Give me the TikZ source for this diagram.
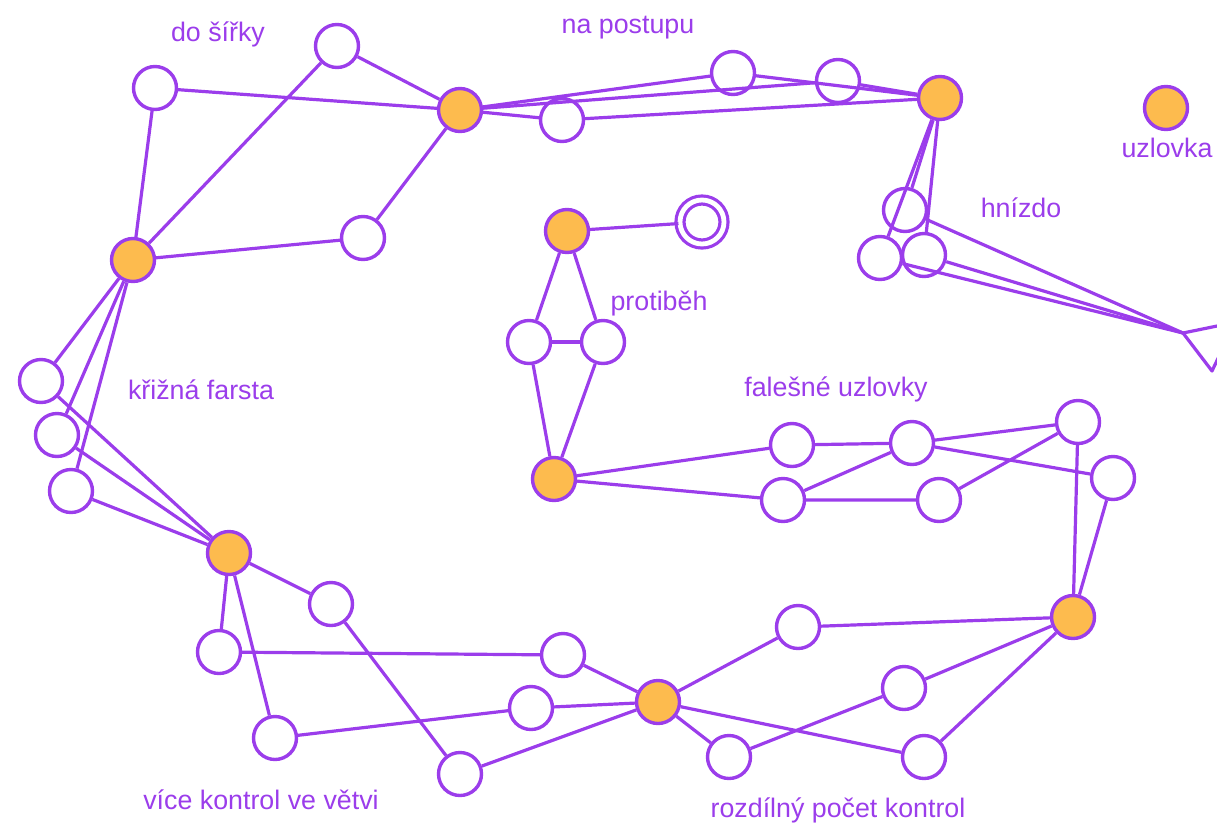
\documentclass[tikz,border=0pt]{standalone}
\usepackage{fontspec}
\setmainfont{Liberation Sans}
\definecolor{vio}{HTML}{9B3DEB}
\definecolor{gold}{HTML}{FDBB4E}

\begin{document}
\begin{tikzpicture}[x=1pt,y=-1pt,
  stop/.style={circle, draw=vio, line width=3.4pt, minimum size=43pt, inner sep=0pt, fill=white},
  hub/.style={stop, fill=gold},
  finish/.style={circle, draw=vio, line width=3.2pt, double, double distance=4.8pt, minimum size=44pt, inner sep=0pt, fill=white},
  link/.style={draw=vio, line width=3.2pt, line join=round},
  lbl/.style={text=vio, anchor=base, inner sep=0pt, font=\fontsize{26.8}{30}\selectfont}]
\useasboundingbox (0,0) rectangle (1217,822);
\clip (0,0) rectangle (1217,822);

% junction controls
\node[hub] (h1) at (460,110) {};
\node[hub] (h2) at (940,98) {};
\node[hub] (h3) at (133,260) {};
\node[hub] (h4) at (567,231) {};
\node[hub] (h5) at (554,479) {};
\node[hub] (h6) at (229,553) {};
\node[hub] (h7) at (658,702) {};
\node[hub] (h8) at (1073,617) {};
\node[hub] (hL) at (1166,108) {};

% ordinary controls
\node[stop] (w1) at (337,46) {};
\node[stop] (w2) at (155,88) {};
\node[stop] (w3) at (363,238) {};
\node[stop] (w4) at (733,73) {};
\node[stop] (w5) at (838,81) {};
\node[stop] (w6) at (562,120) {};
\node[stop] (w7) at (905,210) {};
\node[stop] (w8) at (880,258) {};
\node[stop] (w9) at (924,255) {};
\node[finish] (fin) at (702,222) {};
\node[stop] (w10) at (529,342) {};
\node[stop] (w11) at (603,342) {};
\node[stop] (w12) at (41,381) {};
\node[stop] (w13) at (57,435) {};
\node[stop] (w14) at (71,491) {};
\node[stop] (w15) at (792,445) {};
\node[stop] (w16) at (912,443) {};
\node[stop] (w17) at (1078,422) {};
\node[stop] (w18) at (783,500) {};
\node[stop] (w19) at (939,500) {};
\node[stop] (w20) at (1113,478) {};
\node[stop] (w21) at (331,604) {};
\node[stop] (w22) at (219,652) {};
\node[stop] (w23) at (563,655) {};
\node[stop] (w24) at (531,708) {};
\node[stop] (w25) at (275,738) {};
\node[stop] (w26) at (460,774) {};
\node[stop] (w27) at (798,627) {};
\node[stop] (w28) at (904,688) {};
\node[stop] (w29) at (729,757) {};
\node[stop] (w30) at (924,757) {};

% off-picture junction at the right edge
\coordinate (x0) at (1183,333);
\coordinate (x1) at (1222,325);
\coordinate (x2) at (1212,371);
\coordinate (x3) at (1222,350);

% do šířky
\draw[link] (h3) -- (w2) -- (h1);
\draw[link] (h3) -- (w1) -- (h1);
\draw[link] (h3) -- (w3) -- (h1);

% na postupu
\draw[link] (h1) -- (w4);
\draw[link] (h1) -- (w5);
\draw[link] (h1) -- (w6) -- (h2);
\draw[link] (w4) -- (h2);
\draw[link] (w5) -- (h2);

% hnízdo
\draw[link] (h2) -- (w7) -- (x0);
\draw[link] (h2) -- (w8) -- (x0);
\draw[link] (h2) -- (w9) -- (x0);
\draw[link] (x1) -- (x0) -- (x2) -- (x3);

% protiběh
\draw[link] (fin) -- (h4);
\draw[link] (h4) -- (w10) -- (h5);
\draw[link] (h4) -- (w11) -- (h5);
\draw[link] (w10) -- (w11);

% falešné uzlovky
\draw[link] (h5) -- (w15) -- (w16) -- (w17) -- (h8);
\draw[link] (h5) -- (w18) -- (w19) -- (w17);
\draw[link] (w18) -- (w16) -- (w20) -- (h8);

% křižná farsta
\draw[link] (h3) -- (w12) -- (h6);
\draw[link] (h3) -- (w13) -- (h6);
\draw[link] (h3) -- (w14) -- (h6);

% více kontrol ve větvi
\draw[link] (h6) -- (w21) -- (w26) -- (h7);
\draw[link] (h6) -- (w22) -- (w23) -- (h7);
\draw[link] (h6) -- (w25) -- (w24) -- (h7);

% rozdílný počet kontrol
\draw[link] (h7) -- (w27) -- (h8);
\draw[link] (h7) -- (w29) -- (w28) -- (h8);
\draw[link] (h7) -- (w30) -- (h8);

% labels
\node[lbl] (t1) at (218,41) {do šířky};
\node[lbl] (t2) at (628,33) {na postupu};
\node[lbl] (t3) at (1167,157) {uzlovka};
\node[lbl] (t4) at (1021,217) {hnízdo};
\node[lbl] (t5) at (659,310) {protiběh};
\node[lbl] (t6) at (201,399) {křižná farsta};
\node[lbl] (t7) at (836,396) {falešné uzlovky};
\node[lbl] (t8) at (261,809) {více kontrol ve větvi};
\node[lbl] (t9) at (838,817) {rozdílný počet kontrol};
\end{tikzpicture}
\end{document}
